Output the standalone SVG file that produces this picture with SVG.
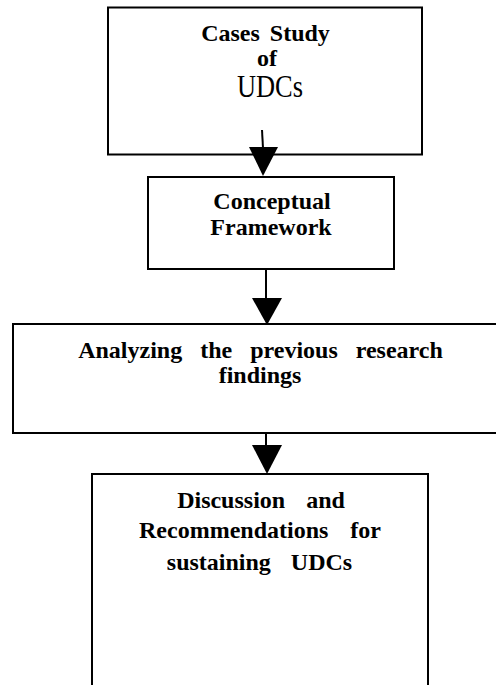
<svg xmlns="http://www.w3.org/2000/svg" width="496" height="685" viewBox="0 0 496 685">
<style>
.box{fill:#fff;stroke:#000;stroke-width:2}
.t{font-family:"Liberation Serif","Times New Roman",serif;font-size:24px;font-weight:bold;text-anchor:middle;fill:#000}
.r{font-family:"Liberation Serif","Times New Roman",serif;font-size:31px;text-anchor:middle;fill:#000}
.ln{stroke:#000;stroke-width:2;fill:none}
</style>
<rect width="496" height="685" fill="#fff"/>
<g id="n1">
<rect class="box" x="108" y="7.5" width="314" height="147"/>
<text class="t" x="265.5" y="41" word-spacing="4">Cases Study</text>
<text class="t" x="267" y="66">of</text>
<text class="r" x="270" y="97" textLength="66" lengthAdjust="spacingAndGlyphs">UDCs</text>
</g>
<g id="n2">
<rect class="box" x="148" y="177" width="246" height="92"/>
<text class="t" x="272" y="209">Conceptual</text>
<text class="t" x="271" y="235">Framework</text>
</g>
<g id="n3">
<rect class="box" x="13" y="324" width="494" height="109"/>
<text class="t" x="260.5" y="358" word-spacing="12">Analyzing the previous research</text>
<text class="t" x="260" y="383">findings</text>
</g>
<g id="n4">
<rect class="box" x="92" y="474" width="336" height="220"/>
<text class="t" x="261" y="508" word-spacing="15">Discussion and</text>
<text class="t" x="260" y="538" word-spacing="16">Recommendations for</text>
<text class="t" x="259.5" y="570" word-spacing="14">sustaining UDCs</text>
</g>
<g id="connectors">
<line class="ln" x1="262" y1="130" x2="263" y2="148"/>
<polygon points="249,147 278,147 263,176"/>
<line class="ln" x1="266" y1="269" x2="266" y2="299"/>
<polygon points="252,298 282,298 267,325"/>
<line class="ln" x1="266" y1="433" x2="266" y2="446"/>
<polygon points="252,445 282,445 267,474"/>
</g>
</svg>
